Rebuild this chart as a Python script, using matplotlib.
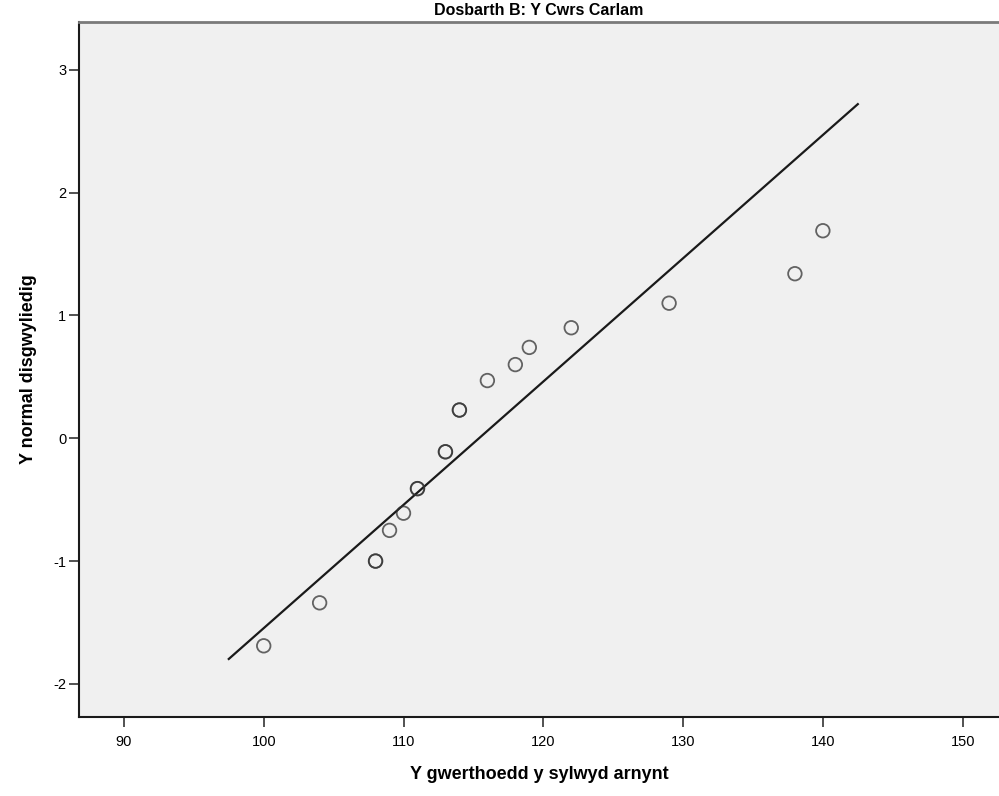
import numpy as np
from matplotlib import pyplot as plt

# Gwerthoedd a sylwyd (tied values appear twice) and expected normal values
sylwyd = [100, 104, 108, 108, 109, 110, 111, 111, 113, 113, 114, 114,
          116, 118, 119, 122, 129, 138, 140]
disgwyl = [-1.69, -1.34, -1.00, -1.00, -0.75, -0.61, -0.41, -0.41, -0.11, -0.11,
           0.23, 0.23, 0.47, 0.60, 0.74, 0.90, 1.10, 1.34, 1.69]

# reference normal line: y = (x - mean) / sd
cymedr = 115.4
gwyriad = 9.96
llinell_x = [97.5, 142.5]

xticks = [90, 100, 110, 120, 130, 140, 150]
yticks = [-2, -1, 0, 1, 2, 3]

plt.rcParams['font.family'] = ['Liberation Sans Narrow', 'Liberation Sans', 'DejaVu Sans']
plt.rcParams['axes.unicode_minus'] = False

fig = plt.figure(figsize=(9.99, 7.96), dpi=100)
ax = fig.add_axes([0.079, 0.0992, 0.921, 0.8732])
ax.set_facecolor("#f0f0f0")

lx = np.array(llinell_x)
ax.plot(lx, (lx - cymedr) / gwyriad, color="#1a1a1a", lw=1.6, zorder=2)
ax.scatter(sylwyd, disgwyl, s=95, facecolors="none", edgecolors="#333333",
           linewidths=1.3, alpha=0.75, zorder=3)

ax.set_xlim(86.78, 152.6)
ax.set_ylim(-2.27, 3.39)
ax.set_xticks(xticks)
ax.set_yticks(yticks)
ax.tick_params(direction="out", length=7, width=1.2, labelsize=10.5, color="#333333")
ax.tick_params(axis="x", pad=6)
ax.tick_params(axis="y", pad=2)

for s in ["left", "bottom"]:
    ax.spines[s].set_color("#1a1a1a")
    ax.spines[s].set_linewidth(1.5)
ax.spines["top"].set_color("#7a7a7a")
ax.spines["top"].set_linewidth(2)
ax.spines["right"].set_visible(False)

ax.set_title("Dosbarth B: Y Cwrs Carlam", fontsize=11.5, fontweight="bold", pad=5)
ax.set_xlabel("Y gwerthoedd y sylwyd arnynt", fontsize=13, fontweight="bold",
              family=["Liberation Sans", "DejaVu Sans"], labelpad=12)
ax.set_ylabel("Y normal disgwyliedig", fontsize=13, fontweight="bold",
              family=["Liberation Sans", "DejaVu Sans"], labelpad=12)

plt.savefig("out.png", dpi=100)
